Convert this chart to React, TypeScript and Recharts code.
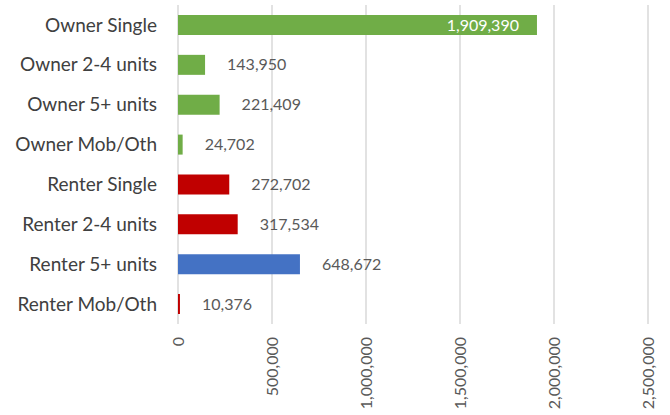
import { BarChart, Bar, XAxis, YAxis, CartesianGrid, Cell, LabelList } from "recharts";

const categories = [
  "Owner Single",
  "Owner 2-4 units",
  "Owner 5+ units",
  "Owner Mob/Oth",
  "Renter Single",
  "Renter 2-4 units",
  "Renter 5+ units",
  "Renter Mob/Oth",
];
const units = [1909390, 143950, 221409, 24702, 272702, 317534, 648672, 10376];
const barColors = ["#70AD47", "#70AD47", "#70AD47", "#70AD47", "#C00000", "#C00000", "#4472C4", "#C00000"];
const xTicks = [0, 500000, 1000000, 1500000, 2000000, 2500000];

const data = categories.map((name, i) => ({ name, units: units[i] }));

const FONT = "Lato, 'Noto Sans', sans-serif";
const fmt = (v: number) => v.toLocaleString("en-US");

const CategoryTick = (props: any) => {
  const { x, y, payload } = props;
  return (
    <text x={x - 4} y={y} dy="0.35em" textAnchor="end" fill="#404040" fontSize={19} fontFamily={FONT}>
      {payload.value}
    </text>
  );
};

const ValueTick = (props: any) => {
  const { x, y, payload } = props;
  return (
    <text
      x={x}
      y={y + 5}
      dy="0.35em"
      textAnchor="end"
      fill="#595959"
      fontSize={16}
      fontFamily={FONT}
      transform={`rotate(-90, ${x}, ${y + 5})`}
    >
      {fmt(payload.value)}
    </text>
  );
};

const renderLabel = (props: any) => {
  const { x, y, width, height, value } = props;
  const cy = y + height / 2;
  if (value > 1000000) {
    return (
      <text x={x + width - 18} y={cy} dy="0.35em" textAnchor="end" fill="#ffffff" fontSize={16} fontFamily={FONT}>
        {fmt(value)}
      </text>
    );
  }
  return (
    <text x={x + width + 22} y={cy} dy="0.35em" textAnchor="start" fill="#595959" fontSize={16} fontFamily={FONT}>
      {fmt(value)}
    </text>
  );
};

export default function App() {
  return (
    <div style={{ position: "absolute", left: 0, top: 0, width: 670, height: 415, background: "#fff" }}>
      <BarChart
        width={670}
        height={415}
        data={data}
        layout="vertical"
        margin={{ top: 5, right: 22, bottom: 0, left: 0 }}
        barCategoryGap="25%"
      >
        <CartesianGrid horizontal={false} stroke="#d9d9d9" strokeWidth={1.5} />
        <XAxis
          type="number"
          domain={[0, 2500000]}
          ticks={xTicks}
          axisLine={false}
          tickLine={false}
          height={91}
          interval={0}
          tick={<ValueTick />}
        />
        <YAxis
          type="category"
          dataKey="name"
          width={178}
          axisLine={false}
          tickLine={false}
          tickSize={6}
          tickMargin={11}
          interval={0}
          tick={<CategoryTick />}
        />
        <Bar dataKey="units" isAnimationActive={false}>
          {data.map((d, i) => (
            <Cell key={d.name} fill={barColors[i]} />
          ))}
          <LabelList dataKey="units" content={renderLabel} />
        </Bar>
      </BarChart>
    </div>
  );
}
